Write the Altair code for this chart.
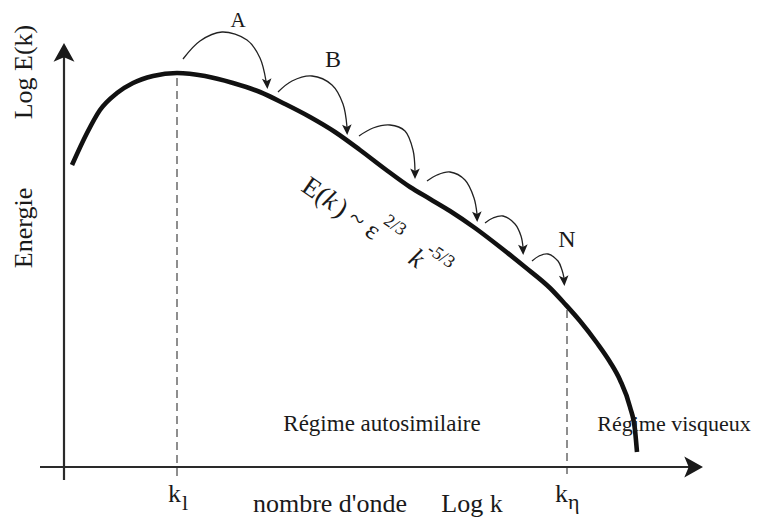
import altair as alt
import pandas as pd

# ---- coordinate frame (schematic units: origin at axes crossing) ----
X_DOMAIN = [-5.6, 68.9]
Y_DOMAIN = [-5.1, 45.9]

# ---- energy spectrum curve E(k) (schematic) ----
curve_x = [0.8, 2.3, 3.6, 5.3, 6.9, 8.9, 11.3, 14.1, 16.9, 19.6, 22.1, 24.6, 27.1, 29.6,
           32.1, 34.6, 36.6, 38.6, 41.1, 43.6, 46.1, 48.6, 50.1, 51.6, 53.3, 54.6, 55.6,
           56.6, 57.1, 57.3]
curve_y = [30.2, 33.4, 35.7, 37.4, 38.4, 39.1, 39.4, 39.1, 38.4, 37.5, 36.3, 35.0, 33.5, 31.7,
           29.8, 28.0, 26.8, 25.6, 23.9, 22.0, 20.0, 17.9, 16.3, 14.6, 12.4, 10.5, 8.7,
           6.0, 3.7, 1.5]

# ---- cascade arcs (A, B, ..., N) ----
arc_ids = ["A", "B", "C3", "C4", "C5", "N"]
arc_x = [
    [11.9, 13.6, 15.8, 18.3, 19.6, 20.2],
    [21.4, 22.8, 24.8, 26.8, 27.9, 28.3],
    [29.5, 30.9, 32.6, 34.1, 34.9, 35.1],
    [36.3, 37.3, 38.6, 40.1, 41.0, 41.3],
    [42.1, 42.9, 43.9, 45.1, 45.7, 45.9],
    [46.8, 47.5, 48.4, 49.4, 49.8, 50.0],
]
arc_y = [
    [40.8, 42.6, 43.5, 42.7, 40.9, 38.6],
    [37.5, 38.6, 39.1, 38.2, 36.3, 34.0],
    [33.1, 33.9, 34.2, 33.6, 31.7, 29.6],
    [28.6, 29.2, 29.5, 28.7, 26.9, 25.3],
    [24.4, 24.9, 25.1, 24.3, 23.1, 22.0],
    [20.6, 21.1, 21.3, 20.6, 19.7, 18.9],
]
head_x = [20.3, 28.3, 35.1, 41.3, 45.9, 50.0]
head_y = [38.4, 33.8, 29.4, 25.1, 21.8, 18.7]
head_angle = [356, 358, 0, 358, 358, 356]

# ---- axes and dashed markers ----
axis_x1 = [0.0, -2.4]
axis_y1 = [-1.3, 0.0]
axis_x2 = [0.0, 63.1]
axis_y2 = [41.2, 0.0]
axis_head_x = [0.0, 62.8]
axis_head_y = [41.3, 0.0]
axis_head_angle = [0, 90]

dash_x = [11.3, 50.3]
dash_y1 = [38.9, 15.7]
dash_y2 = [-1.0, -0.9]

# ---- labels ----
center_text = ["A", "B", "N", "nombre d'onde", "Log k", "Régime autosimilaire",
               "Régime visqueux", "Log E(k)", "Energie"]
center_x = [17.4, 26.9, 50.3, 26.6, 40.8, 31.8, 61.0, -3.2, -3.2]
center_y = [44.0, 40.0, 22.0, -4.5, -4.5, 3.6, 3.6, 39.5, 23.9]
center_size = [21, 24, 24, 26, 26, 23, 22, 26, 26]
center_angle = [0, 0, 0, 0, 0, 0, 0, 270, 270]

left_text = ["k", "l", "k", "η", "E(", ") ~ ε", "2/3", "-5/3"]
left_x = [10.4, 11.8, 49.1, 50.4, 23.6, 26.9, 31.85, 36.2]
left_y = [-3.5, -4.3, -3.5, -4.2, 27.7, 25.4, 24.4, 21.5]
left_size = [26, 22, 26, 22, 27, 27, 18, 18]
left_angle = [0, 0, 0, 0, 35, 35, 35, 35]

ital_text = ["k", "k"]
ital_x = [25.7, 34.3]
ital_y = [26.3, 20.5]
ital_size = [27, 27]
ital_angle = [35, 35]

# ---- tables ----
curve_df = pd.DataFrame({"i": range(len(curve_x)), "x": curve_x, "y": curve_y})
arc_rows = []
for a, xs_, ys_ in zip(arc_ids, arc_x, arc_y):
    for i, (xv, yv) in enumerate(zip(xs_, ys_)):
        arc_rows.append({"arc": a, "i": i, "x": xv, "y": yv})
arc_df = pd.DataFrame(arc_rows)
head_df = pd.DataFrame({"x": head_x, "y": head_y, "angle": head_angle})
axis_df = pd.DataFrame({"x": axis_x1, "y": axis_y1, "x2": axis_x2, "y2": axis_y2})
axis_head_df = pd.DataFrame({"x": axis_head_x, "y": axis_head_y, "angle": axis_head_angle})
dash_df = pd.DataFrame({"x": dash_x, "y": dash_y1, "y2": dash_y2})
center_df = pd.DataFrame({"t": center_text, "x": center_x, "y": center_y,
                          "size": center_size, "angle": center_angle})
left_df = pd.DataFrame({"t": left_text, "x": left_x, "y": left_y,
                        "size": left_size, "angle": left_angle})
ital_df = pd.DataFrame({"t": ital_text, "x": ital_x, "y": ital_y,
                        "size": ital_size, "angle": ital_angle})

xs = alt.Scale(domain=X_DOMAIN, nice=False, zero=False)
ys = alt.Scale(domain=Y_DOMAIN, nice=False, zero=False)


def X(f="x"):
    return alt.X(f, type="quantitative", scale=xs, axis=None)


def Y(f="y"):
    return alt.Y(f, type="quantitative", scale=ys, axis=None)


INK = "#1a1a1a"
FONT = "Liberation Serif"

curve = alt.Chart(curve_df).mark_line(color="#111111", strokeWidth=4.6, interpolate="monotone").encode(
    x=X(), y=Y(), order=alt.Order("i:Q"))

axes = alt.Chart(axis_df).mark_rule(color="#2a2a2a", strokeWidth=2.2).encode(
    x=X(), y=Y(), x2=alt.X2("x2"), y2=alt.Y2("y2"))

axis_heads = alt.Chart(axis_head_df).mark_point(
    shape="M0,-1 L0.95,0.7 L0,0.3 L-0.95,0.7 Z", filled=True, size=484, color="#1a1a1a", opacity=1
).encode(x=X(), y=Y(), angle=alt.Angle("angle:Q", scale=None))

dashes = alt.Chart(dash_df).mark_rule(color="#444444", strokeWidth=1.2, strokeDash=[8, 5]).encode(
    x=X(), y=Y(), y2=alt.Y2("y2"))

arcs = alt.Chart(arc_df).mark_line(color="#222222", strokeWidth=1.3, interpolate="catmull-rom").encode(
    x=X(), y=Y(), detail="arc:N", order=alt.Order("i:Q"))

heads = alt.Chart(head_df).mark_point(
    shape="M0,1 L0.8,-0.75 L0,-0.35 L-0.8,-0.75 Z", filled=True, size=144, color="#1a1a1a", opacity=1
).encode(x=X(), y=Y(), angle=alt.Angle("angle:Q", scale=None))

center_labels = alt.Chart(center_df).mark_text(font=FONT, align="center", baseline="alphabetic", color=INK).encode(
    x=X(), y=Y(), text="t:N", size=alt.Size("size:Q", scale=None), angle=alt.Angle("angle:Q", scale=None))

left_labels = alt.Chart(left_df).mark_text(font=FONT, align="left", baseline="alphabetic", color=INK).encode(
    x=X(), y=Y(), text="t:N", size=alt.Size("size:Q", scale=None), angle=alt.Angle("angle:Q", scale=None))

ital_labels = alt.Chart(ital_df).mark_text(font=FONT, fontStyle="italic", align="left", baseline="alphabetic",
                                           color=INK).encode(
    x=X(), y=Y(), text="t:N", size=alt.Size("size:Q", scale=None), angle=alt.Angle("angle:Q", scale=None))

chart = alt.layer(
    dashes, axes, axis_heads, curve, arcs, heads, center_labels, left_labels, ital_labels
).properties(
    width=745, height=510, padding=0, autosize="none", background="white"
).configure_view(stroke=None)

chart.save("out.html", embed_options={"renderer": "svg", "actions": False})
